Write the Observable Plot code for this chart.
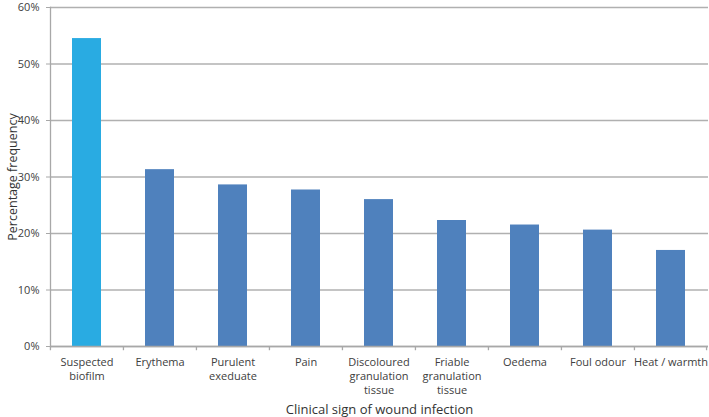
<!DOCTYPE html>
<html><head><meta charset="utf-8">
<script src="https://cdn.jsdelivr.net/npm/d3@7"></script>
<script src="https://cdn.jsdelivr.net/npm/@observablehq/plot@0.6"></script>
<style>body{margin:0;background:#fff;}</style>
</head><body><div id="chart"></div>
<script>
const categories = ["Suspected biofilm","Erythema","Purulent exeduate","Pain","Discoloured granulation tissue","Friable granulation tissue","Oedema","Foul odour","Heat / warmth"];
const tickLabels = ["Suspected\nbiofilm","Erythema","Purulent\nexeduate","Pain","Discoloured\ngranulation\ntissue","Friable\ngranulation\ntissue","Oedema","Foul odour","Heat / warmth"];
const values = [54.5,31.3,28.6,27.7,26.0,22.3,21.5,20.6,17.0];
const highlighted = ["Suspected biofilm"];
const yTicks = [0,10,20,30,40,50,60];
const xTitle = "Clinical sign of wound infection";
const yTitle = "Percentage frequency";

const data = categories.map((c,i)=>({cat:c, value:values[i], label:tickLabels[i]}));
const W = 709, H = 417, mL = 50, mR = 1, mT = 7, mB = 71;
const step = (W - mL - mR) / categories.length;

const chart = Plot.plot({
  width: W, height: H,
  marginLeft: mL, marginRight: mR, marginTop: mT, marginBottom: mB,
  style: {fontFamily: "'Open Sans', sans-serif", fontSize: "11px", color: "#404040", background: "#fff"},
  x: {type: "band", domain: categories, paddingInner: 0.6, paddingOuter: 0.3, label: null, axis: null},
  y: {domain: [0, 60], label: null},
  marks: [
    Plot.gridY(yTicks, {stroke: "#b0b0b0", strokeOpacity: 1, strokeWidth: 1.3}),
    Plot.barY(data, {x: "cat", y: "value", fill: d => highlighted.includes(d.cat) ? "#29abe2" : "#4f81bd"}),
    Plot.ruleY([0], {stroke: "#a8a8a8", strokeWidth: 1.3}),
    Plot.frame({anchor: "left", stroke: "#a8a8a8", strokeWidth: 1.3}),
    Plot.axisY({ticks: yTicks, tickFormat: d => d + "%", tickSize: 4, tickPadding: 7, stroke: "#a8a8a8", label: null, fill: "#404040"}),
    Plot.text(data, {x: "cat", text: "label", frameAnchor: "bottom", lineAnchor: "top", dy: 9, lineHeight: 1.3, fill: "#404040"}),
    Plot.ruleX(categories, {x: d => d, y1: 0, y2: -0.75, dx: -step/2, stroke: "#a8a8a8", strokeWidth: 1.3}),
    Plot.ruleX([categories[categories.length-1]], {x: d => d, y1: 0, y2: -0.75, dx: step/2 - 1, stroke: "#a8a8a8", strokeWidth: 1.3}),
    Plot.text([xTitle], {frameAnchor: "bottom", lineAnchor: "middle", dy: 63, fontSize: 13, fill: "#333"}),
    Plot.text([yTitle], {frameAnchor: "left", textAnchor: "middle", lineAnchor: "middle", dx: -38, rotate: -90, fontSize: 12.5, fill: "#333"})
  ]
});
document.getElementById("chart").appendChild(chart);
</script>
</body></html>
